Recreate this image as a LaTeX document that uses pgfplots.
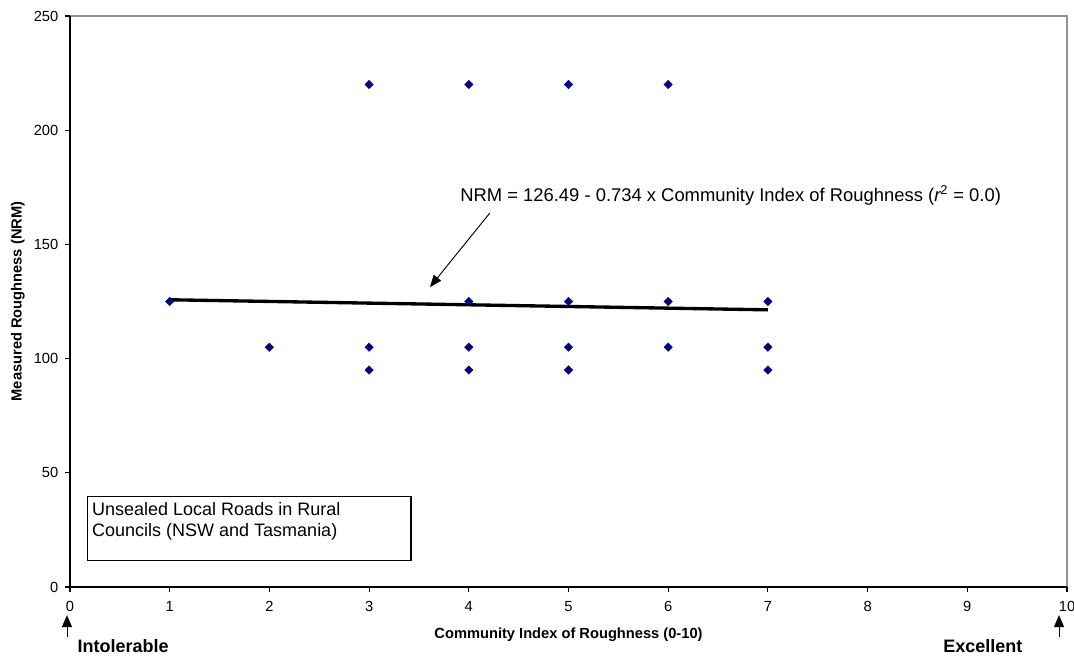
\documentclass[border=0pt]{standalone}
\usepackage{fontspec}
\setmainfont{Liberation Sans}
\usepackage{pgfplots}
\pgfplotsset{compat=1.18}
\usetikzlibrary{arrows.meta}
\definecolor{navyblue}{HTML}{000080}
\begin{document}
\begin{tikzpicture}
\useasboundingbox (-52.5pt,-52.5pt) rectangle (753pt,440.25pt);
\begin{axis}[
  at={(0,0)}, anchor=south west,
  scale only axis, width=747.75pt, height=428.25pt,
  xmin=0, xmax=10, ymin=0, ymax=250,
  xtick={0,1,...,10}, ytick={0,50,...,250},
  axis background/.style={draw=gray!85, line width=0.9pt},
  axis x line*=bottom, axis y line*=left,
  axis line style={-, black, line width=0.8pt},
  every outer x axis line/.append style={-},
  every outer y axis line/.append style={-},
  tick align=outside, major tick length=3.75pt,
  tick style={black, line width=0.8pt},
  /pgf/number format/assume math mode=true,
  tick label style={font=\fontsize{11}{13}\selectfont},
  xticklabel style={yshift=-3.5pt},
  yticklabel style={xshift=-1.5pt},
  xlabel={Community Index of Roughness (0-10)},
  ylabel={Measured Roughness (NRM)},
  xlabel style={font=\bfseries\fontsize{11}{13}\selectfont, at={(axis description cs:0.5,-0.0841)}, anchor=center},
  ylabel style={font=\bfseries\fontsize{11}{13}\selectfont, at={(axis description cs:-0.0522,0.5)}, anchor=center},
  clip=false,
]
% regression line
\addplot[black, line width=2.5pt] coordinates {(1,125.76) (7,121.35)};
% data points
\addplot[only marks, mark=square*, mark size=2.2pt, mark options={rotate=45, fill=navyblue, draw=navyblue}, navyblue]
coordinates {
 (1,125) (2,105)
 (3,220) (3,105) (3,95)
 (4,220) (4,125) (4,105) (4,95)
 (5,220) (5,125) (5,105) (5,95)
 (6,220) (6,125) (6,105)
 (7,125) (7,105) (7,95)
};
% annotation
\node[anchor=base west, inner sep=0pt, font=\fontsize{13.8}{16}\selectfont] at (axis cs:3.912,168.7)
  {NRM = 126.49 - 0.734 x Community Index of Roughness ({\itshape r}\textsuperscript{2} = 0.0)};
\draw[line width=0.7pt, -{Triangle[length=9pt,width=7pt]}] (axis cs:4.21,163.7) -- (axis cs:3.61,131.3);
% box
\draw[line width=0.8pt, fill=white] (axis cs:0.18,11.8) rectangle (axis cs:3.42,39.8);
\node[anchor=base west, inner sep=0pt, font=\fontsize{13.5}{16}\selectfont] at (axis cs:0.22,31.5) {Unsealed Local Roads in Rural};
\node[anchor=base west, inner sep=0pt, font=\fontsize{13.5}{16}\selectfont] at (axis cs:0.22,22.0) {Councils (NSW and Tasmania)};
% bottom labels
\draw[line width=0.7pt, -{Triangle[length=9pt,width=7.5pt]}] (axis cs:-0.03,-21.9) -- (axis cs:-0.03,-12.3);
\draw[line width=0.7pt, -{Triangle[length=9pt,width=7.5pt]}] (axis cs:9.92,-21.9) -- (axis cs:9.92,-12.3);
\node[anchor=base west, inner sep=0pt, font=\bfseries\fontsize{13.5}{16}\selectfont] at (axis cs:0.073,-28.8) {Intolerable};
\node[anchor=base west, inner sep=0pt, font=\bfseries\fontsize{13.5}{16}\selectfont] at (axis cs:8.756,-28.8) {Excellent};
\end{axis}
\end{tikzpicture}
\end{document}
